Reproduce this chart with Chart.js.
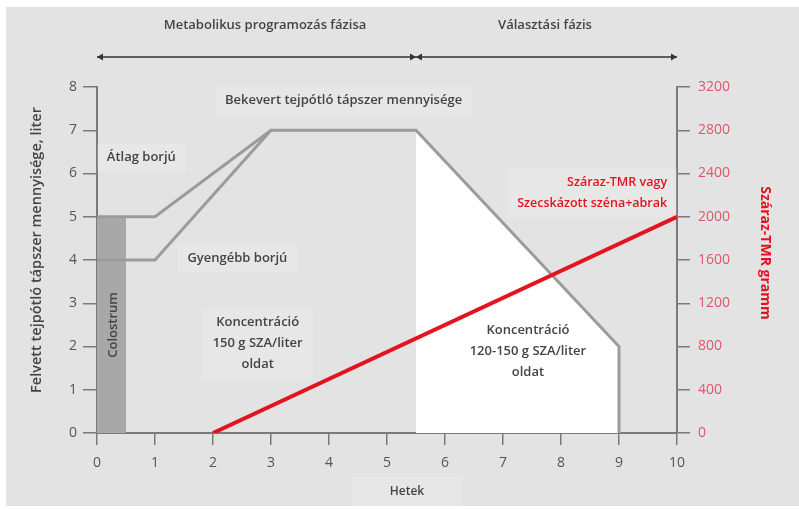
<!DOCTYPE html>
<html lang="hu">
<head>
<meta charset="utf-8">
<script src="https://cdn.jsdelivr.net/npm/chart.js@4"></script>
<style>
    html, body { margin: 0; padding: 0; background: #ffffff; }
    #wrap { width: 799px; height: 509px; }
</style>
</head>
<body>
<div id="wrap"><canvas id="chart" width="799" height="509"></canvas></div>
<script>
// Hetek (x) és liter / gramm értékek
const avgWeeks = [0, 1, 3, 5.5, 9, 9];
const avgLiters = [5, 5, 7, 7, 2, 0];
const weakWeeks = [0, 1, 3];
const weakLiters = [4, 4, 7];
const colostrumWeeks = [0, 0.5];
const colostrumLiters = [5, 5];
const weaningWeeks = [5.5, 9];
const weaningLiters = [7, 2];
const tmrWeeks = [2, 10];
const tmrGrams = [0, 2000];
const phaseBounds = [0, 5.5, 10];
const phaseLabels = ["Metabolikus programozás fázisa", "Választási fázis"];

const textFont = "'Open Sans', sans-serif";
const grey = "#444444";
const red = "#e3141f";

function points(xs, ys) {
    return xs.map((x, i) => ({ x, y: ys[i] }));
}

// szöveges feliratok, adat-koordinátákban
const notes = [
    { lines: ["Bekevert tejpótló tápszer mennyisége"], x: 4.25, y: 7.7, align: "center" },
    { lines: ["Átlag borjú"], x: 0.17, y: 6.38, align: "left" },
    { lines: ["Gyengébb borjú"], x: 2.42, y: 4.05, align: "center" },
    { lines: ["Koncentráció", "150 g SZA/liter", "oldat"], x: 2.77, y: 2.55, align: "center" },
    { lines: ["Koncentráció", "120-150 g SZA/liter", "oldat"], x: 7.43, y: 2.38, align: "center" },
    { lines: ["Száraz-TMR vagy", "Szecskázott széna+abrak"], x: 9.83, y: 5.8, align: "right", color: red, size: 12.5 },
];

function noteBox(ctx, note, px, py) {
    const size = note.size || 13;
    ctx.font = `600 ${size}px ${textFont}`;
    const w = Math.max(...note.lines.map((l) => ctx.measureText(l).width));
    const h = note.lines.length * 21;
    let left = px - w / 2;
    if (note.align === "left") left = px;
    if (note.align === "right") left = px - w;
    return { left: left - 10, top: py - 14, w: w + 20, h: h + 8 };
}

const decorPlugin = {
    id: "decor",
    beforeDraw(chart) {
        const ctx = chart.ctx;
        ctx.save();
        ctx.fillStyle = "#ffffff";
        ctx.fillRect(0, 0, chart.width, chart.height);
        ctx.fillStyle = "#e3e3e3";
        ctx.fillRect(6, 7, chart.width - 6, chart.height - 10);
        ctx.restore();
    },
    beforeDatasetsDraw(chart) {
        const ctx = chart.ctx;
        const xs = chart.scales.x;
        const ys = chart.scales.y;
        ctx.save();
        ctx.fillStyle = "rgba(255,255,255,0.14)";
        notes.forEach((note) => {
            const b = noteBox(ctx, note, xs.getPixelForValue(note.x), ys.getPixelForValue(note.y));
            ctx.fillRect(b.left, b.top, b.w, b.h);
        });
        ctx.fillRect(352, 477, 110, 30);
        ctx.restore();
    },
    afterDraw(chart) {
        const ctx = chart.ctx;
        const xs = chart.scales.x;
        const ys = chart.scales.y;
        const area = chart.chartArea;
        ctx.save();

        // fázis nyíl
        const ay = 57;
        const x0 = xs.getPixelForValue(phaseBounds[0]);
        const x1 = xs.getPixelForValue(phaseBounds[1]);
        const x2 = xs.getPixelForValue(phaseBounds[2]);
        ctx.strokeStyle = "#333333";
        ctx.fillStyle = "#333333";
        ctx.lineWidth = 1.5;
        ctx.beginPath();
        ctx.moveTo(x0, ay);
        ctx.lineTo(x2, ay);
        ctx.stroke();
        const head = (x, dir) => {
            ctx.beginPath();
            ctx.moveTo(x, ay);
            ctx.lineTo(x - dir * 6, ay - 3.5);
            ctx.lineTo(x - dir * 6, ay + 3.5);
            ctx.closePath();
            ctx.fill();
        };
        head(x0, -1);
        head(x1, 1);
        head(x1, -1);
        head(x2, 1);

        ctx.textBaseline = "middle";
        ctx.textAlign = "center";
        ctx.font = `600 13px ${textFont}`;
        ctx.fillStyle = grey;
        ctx.fillText(phaseLabels[0], 265, 25);
        ctx.fillText(phaseLabels[1], 545, 25);

        // feliratok
        notes.forEach((note) => {
            const size = note.size || 13;
            ctx.font = `600 ${size}px ${textFont}`;
            ctx.fillStyle = note.color || grey;
            ctx.textAlign = note.align;
            const px = xs.getPixelForValue(note.x);
            const py = ys.getPixelForValue(note.y);
            note.lines.forEach((line, i) => ctx.fillText(line, px, py + i * 21));
        });

        // Colostrum
        ctx.save();
        ctx.translate(xs.getPixelForValue(0.28), 325);
        ctx.rotate(-Math.PI / 2);
        ctx.textAlign = "center";
        ctx.font = `600 13px ${textFont}`;
        ctx.fillStyle = grey;
        ctx.fillText("Colostrum", 0, 0);
        ctx.restore();

        // tengelycímek
        ctx.save();
        ctx.translate(37, 250);
        ctx.rotate(-Math.PI / 2);
        ctx.textAlign = "center";
        ctx.font = `600 14.5px ${textFont}`;
        ctx.fillStyle = grey;
        ctx.fillText("Felvett tejpótló tápszer mennyisége, liter", 0, 0);
        ctx.restore();

        ctx.save();
        ctx.translate(765, 253);
        ctx.rotate(Math.PI / 2);
        ctx.textAlign = "center";
        ctx.font = `bold 14px ${textFont}`;
        ctx.fillStyle = red;
        ctx.fillText("Száraz-TMR gramm", 0, 0);
        ctx.restore();

        ctx.textAlign = "center";
        ctx.font = `600 12px ${textFont}`;
        ctx.fillStyle = grey;
        ctx.fillText("Hetek", (area.left + area.right) / 2 + 20, 492);

        ctx.restore();
    },
};

const axisGrey = "#7a7a7a";

new Chart(document.getElementById("chart"), {
    type: "line",
    data: {
        datasets: [
            {
                label: "Átlag borjú",
                data: points(avgWeeks, avgLiters),
                borderColor: "#9b9b9b",
                borderWidth: 3,
                pointRadius: 0,
                tension: 0,
                yAxisID: "y",
                order: 2,
            },
            {
                label: "Gyengébb borjú",
                data: points(weakWeeks, weakLiters),
                borderColor: "#9b9b9b",
                borderWidth: 3,
                pointRadius: 0,
                tension: 0,
                yAxisID: "y",
                order: 2,
            },
            {
                label: "Száraz-TMR",
                data: points(tmrWeeks, tmrGrams),
                borderColor: red,
                borderWidth: 4,
                pointRadius: 0,
                yAxisID: "y2",
                order: 1,
            },
            {
                label: "Colostrum",
                data: points(colostrumWeeks, colostrumLiters),
                borderWidth: 0,
                borderColor: "rgba(0,0,0,0)",
                backgroundColor: "#a8a8a8",
                fill: "origin",
                pointRadius: 0,
                yAxisID: "y",
                order: 4,
            },
            {
                label: "Választás",
                data: points(weaningWeeks, weaningLiters),
                borderWidth: 0,
                borderColor: "rgba(0,0,0,0)",
                backgroundColor: "#ffffff",
                fill: "origin",
                pointRadius: 0,
                yAxisID: "y",
                order: 4,
            },
        ],
    },
    options: {
        responsive: false,
        animation: false,
        layout: { padding: { top: 87, left: 0, right: 0, bottom: 0 } },
        plugins: { legend: { display: false }, tooltip: { enabled: false } },
        scales: {
            x: {
                type: "linear",
                min: 0,
                max: 10,
                ticks: { stepSize: 1, color: "#555555", font: { family: textFont, size: 14 }, padding: 10 },
                grid: { drawOnChartArea: false, color: axisGrey, tickLength: 12, lineWidth: 1.5 },
                border: { color: axisGrey, width: 2 },
                afterFit: (scale) => { scale.height = 76; },
            },
            y: {
                position: "left",
                min: 0,
                max: 8,
                ticks: { stepSize: 1, color: "#555555", font: { family: textFont, size: 14 }, padding: 6 },
                grid: { drawOnChartArea: false, color: axisGrey, tickLength: 14, lineWidth: 1.5 },
                border: { color: axisGrey, width: 2 },
                afterFit: (scale) => { scale.width = 97; },
            },
            y2: {
                position: "right",
                min: 0,
                max: 3200,
                ticks: {
                    stepSize: 400,
                    color: "#e0566c",
                    font: { family: textFont, size: 14 },
                    padding: 8,
                    format: { useGrouping: false },
                },
                grid: { drawOnChartArea: false, color: axisGrey, tickLength: 13, lineWidth: 1.5 },
                border: { color: axisGrey, width: 2 },
                afterFit: (scale) => { scale.width = 122; },
            },
        },
    },
    plugins: [decorPlugin],
});
</script>
</body>
</html>
